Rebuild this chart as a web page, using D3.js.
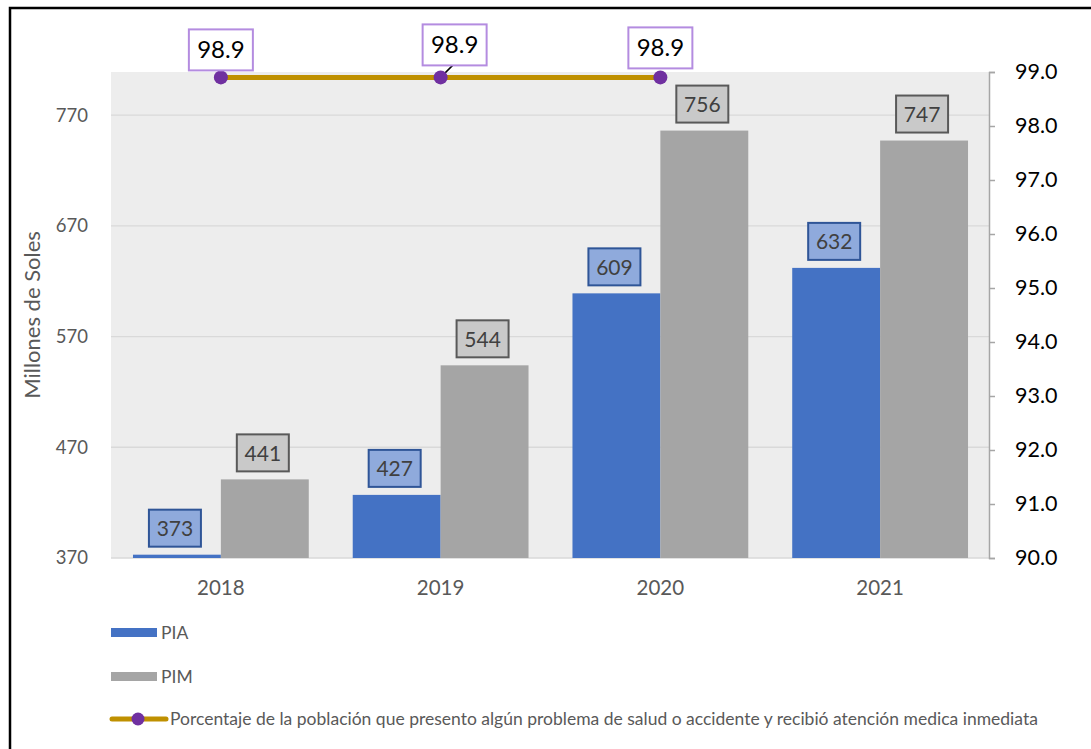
<!DOCTYPE html>
<html><head><meta charset="utf-8">
<script src="https://cdn.jsdelivr.net/npm/d3@7"></script>
<style>body{margin:0;background:#fff;} text{font-family:Lato,"Open Sans",sans-serif;}</style>
</head><body>
<svg id="c" width="1091" height="749"></svg>
<script>
const years = ["2018","2019","2020","2021"];
const pia = [373, 427, 609, 632];
const pim = [441, 544, 756, 747];
const pct = [98.9, 98.9, 98.9, null];
const leftTicks = [370, 470, 570, 670, 770];
const rightTicks = [90,91,92,93,94,95,96,97,98,99];
const seriesNames = ["PIA","PIM","Porcentaje de la población que presento algún problema de salud o accidente y recibió atención medica inmediata"];

const svg = d3.select("#c");
const L = 111, R = 990, T = 72, B = 558;

svg.append("rect").attr("x",10).attr("y",8).attr("width",1100).attr("height",760)
  .attr("fill","#fff").attr("stroke","#000").attr("stroke-width",2.5);
svg.append("rect").attr("x",L).attr("y",T).attr("width",R-L).attr("height",B-T).attr("fill","#ededed");

const x0 = d3.scaleBand().domain(years).range([L,R]).paddingInner(0.2).paddingOuter(0.1);
const x1 = d3.scaleBand().domain([0,1]).range([0,x0.bandwidth()]);
const yL = d3.scaleLinear().domain([370, 808.9]).range([B,T]);
const yR = d3.scaleLinear().domain([90, 99]).range([B,T]);
const xc = d => x0(d) + x0.bandwidth()/2;

// gridlines
svg.append("g").selectAll("line").data(leftTicks).join("line")
  .attr("x1",L).attr("x2",R).attr("y1",d=>yL(d)).attr("y2",d=>yL(d))
  .attr("stroke","#d9d9d9").attr("stroke-width",1.3);

// left axis labels
svg.append("g").selectAll("text").data(leftTicks).join("text")
  .attr("x",88).attr("y",d=>yL(d)).attr("dy","0.35em").attr("text-anchor","end")
  .attr("font-size",18.5).attr("fill","#595959").text(d=>d);
svg.append("text").attr("transform","translate(40,315) rotate(-90)")
  .attr("text-anchor","middle").attr("font-size",22).attr("fill","#595959").text("Millones de Soles");

// right axis
const ra = svg.append("g").attr("transform",`translate(${R-1},0)`)
  .call(d3.axisRight(yR).tickValues(rightTicks).tickFormat(d3.format(".1f")).tickSize(6).tickSizeOuter(6));
ra.select(".domain").attr("stroke","#a6a6a6").attr("stroke-width",1.5);
ra.selectAll(".tick line").attr("stroke","#a6a6a6").attr("stroke-width",1.5);
ra.selectAll(".tick text").attr("x",26).attr("font-size",21.5).attr("fill","#000").attr("font-family","Lato,sans-serif");

// year labels
svg.append("g").selectAll("text").data(years).join("text")
  .attr("x",d=>xc(d)).attr("y",588).attr("dy","0.35em").attr("text-anchor","middle")
  .attr("font-size",20.5).attr("fill","#595959").text(d=>d);

// bars
const colors = ["#4472c4","#a5a5a5"];
const series = [pia, pim];
series.forEach((vals,s)=>{
  svg.append("g").selectAll("rect").data(vals).join("rect")
    .attr("x",(d,i)=>x0(years[i])+x1(s)).attr("width",x1.bandwidth())
    .attr("y",d=>yL(d)).attr("height",d=>B-yL(d)).attr("fill",colors[s]);
});

// bar labels
const lblFill = ["#8faadc","#c9c9c9"], lblStroke = ["#2f5597","#595959"];
series.forEach((vals,s)=>{
  const g = svg.append("g");
  vals.forEach((v,i)=>{
    const cx = x0(years[i])+x1(s)+x1.bandwidth()/2 - 2;
    const by = yL(v) - 8;
    g.append("rect").attr("x",cx-26).attr("y",by-37).attr("width",52).attr("height",37)
      .attr("fill",lblFill[s]).attr("stroke",lblStroke[s]).attr("stroke-width",2);
    g.append("text").attr("x",cx).attr("y",by-18).attr("dy","0.36em").attr("text-anchor","middle")
      .attr("font-size",21).attr("fill","#404040").text(v);
  });
});

// line
const lineData = pct.map((v,i)=>({x:xc(years[i]),v})).filter(d=>d.v!=null);
svg.append("path").datum(lineData)
  .attr("d",d3.line().x(d=>d.x).y(d=>yR(d.v)))
  .attr("fill","none").attr("stroke","#bf9000").attr("stroke-width",5);
// leader for 2019
svg.append("line").attr("x1",lineData[1].x).attr("y1",yR(lineData[1].v))
  .attr("x2",lineData[1].x+14).attr("y2",yR(lineData[1].v)-14).attr("stroke","#000").attr("stroke-width",1.5);
svg.append("g").selectAll("circle").data(lineData).join("circle")
  .attr("cx",d=>d.x).attr("cy",d=>yR(d.v)).attr("r",7).attr("fill","#7030a0");
const offs = [{dx:0,dy:-28},{dx:14,dy:-33},{dx:0,dy:-30}];
lineData.forEach((d,i)=>{
  const cx = d.x+offs[i].dx, cy = yR(d.v)+offs[i].dy;
  svg.append("rect").attr("x",cx-32).attr("y",cy-20).attr("width",64).attr("height",41)
    .attr("fill","#fff").attr("stroke","#b48ce0").attr("stroke-width",2);
  svg.append("text").attr("x",cx).attr("y",cy).attr("dy","0.36em").attr("text-anchor","middle")
    .attr("font-size",24).attr("fill","#000").text(d3.format(".1f")(d.v));
});

// legend
const lg = svg.append("g");
lg.append("rect").attr("x",111).attr("y",628).attr("width",46).attr("height",9).attr("fill",colors[0]);
lg.append("text").attr("x",161).attr("y",633).attr("dy","0.35em").attr("font-size",17.5).attr("fill","#595959").text(seriesNames[0]);
lg.append("rect").attr("x",111).attr("y",672).attr("width",46).attr("height",9).attr("fill",colors[1]);
lg.append("text").attr("x",161).attr("y",677).attr("dy","0.35em").attr("font-size",17.5).attr("fill","#595959").text(seriesNames[1]);
lg.append("line").attr("x1",112).attr("x2",166).attr("y1",719).attr("y2",719)
  .attr("stroke","#bf9000").attr("stroke-width",5).attr("stroke-linecap","round");
lg.append("circle").attr("cx",138).attr("cy",719).attr("r",6.5).attr("fill","#7030a0");
lg.append("text").attr("x",170).attr("y",719).attr("dy","0.35em").attr("font-size",17.5).attr("fill","#595959").text(seriesNames[2]);
</script>
</body></html>
